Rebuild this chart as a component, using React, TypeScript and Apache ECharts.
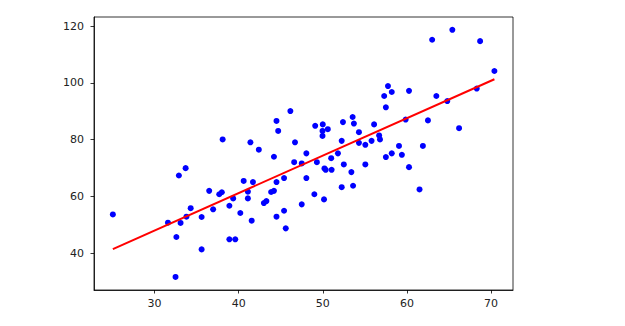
import React, { useEffect, useRef } from "react";
import * as echarts from "echarts";

const xValues = [
  25.05, 32.5, 32.6, 35.6, 31.6, 33.1, 33.8, 34.3, 32.9, 33.7,
  35.6, 36.97, 36.5, 37.7, 38.0, 38.9, 39.35, 38.9, 39.6, 40.2,
  40.6, 41.1, 41.1, 41.55, 41.7, 42.4, 44.2, 43.0, 43.3, 43.86,
  44.2, 44.5, 45.4, 44.5, 45.4, 45.6, 46.6, 47.5, 48.05, 48.05,
  47.5, 46.15, 44.5, 44.7, 38.1, 41.4, 46.7, 65.4, 63.0, 68.7,
  70.4, 68.3, 63.5, 64.8, 57.75, 58.2, 57.3, 60.25, 57.5, 66.2,
  62.5, 59.85, 49.1, 50.0, 49.97, 50.6, 49.97, 52.4, 53.55, 53.7,
  56.1, 54.3, 52.25, 54.3, 55.06, 55.8, 56.7, 56.8, 51.8, 51.0,
  59.06, 61.9, 57.5, 58.2, 59.4, 49.3, 50.2, 50.35, 51.05, 52.5,
  53.4, 55.06, 52.25, 53.6, 49.0, 50.15, 60.25, 61.5,
];
const yValues = [
  53.7, 31.7, 45.75, 41.4, 50.8, 50.7, 52.9, 55.9, 67.4, 70.0,
  52.8, 55.5, 62.0, 60.8, 61.5, 56.75, 59.35, 44.95, 44.95, 54.2,
  65.5, 61.7, 59.35, 51.5, 65.1, 76.5, 74.0, 57.7, 58.4, 61.6,
  62.0, 65.1, 66.5, 52.9, 55.0, 48.8, 72.1, 71.65, 75.2, 66.5,
  57.25, 90.1, 86.6, 83.1, 80.1, 79.1, 79.1, 118.7, 115.2, 114.7,
  104.2, 98.0, 95.4, 93.6, 98.9, 96.8, 95.4, 97.2, 91.4, 84.05,
  86.8, 87.1, 84.9, 85.4, 83.1, 83.7, 81.35, 86.2, 88.0, 85.7,
  85.4, 82.65, 79.6, 78.9, 78.2, 79.6, 81.5, 80.1, 75.2, 73.5,
  77.8, 77.8, 73.9, 75.2, 74.7, 72.1, 69.9, 69.4, 69.4, 71.3,
  68.6, 71.3, 63.3, 63.8, 60.8, 59.0, 70.35, 62.5,
];
const lineX = [25.05, 70.4];
const lineY = [41.5, 101.3];
const xTicks = [30, 40, 50, 60, 70];
const yTicks = [40, 60, 80, 100, 120];

const axisColor = "#000";
const labelColor = "#222";
const font = "DejaVu Sans";

export default function App() {
  const ref = useRef<HTMLDivElement>(null);
  useEffect(() => {
    const chart = echarts.init(ref.current!, null, { renderer: "svg" });
    chart.setOption({
      animation: false,
      backgroundColor: "#fff",
      grid: {
        left: 94,
        right: 112,
        top: 17,
        bottom: 36,
        show: true,
        borderColor: axisColor,
        borderWidth: 0.8,
        backgroundColor: "transparent",
      },
      xAxis: {
        type: "value",
        min: 22.81,
        max: 72.61,
        splitLine: { show: false },
        axisLine: { show: true, lineStyle: { color: axisColor, width: 0.8 } },
        axisTick: {
          show: true,
          customValues: xTicks,
          length: 3.5,
          lineStyle: { color: axisColor, width: 0.8 },
        },
        axisLabel: {
          customValues: xTicks,
          margin: 8,
          fontSize: 11,
          color: labelColor,
          fontFamily: font,
        },
      },
      yAxis: {
        type: "value",
        min: 27.1,
        max: 123.2,
        splitLine: { show: false },
        axisLine: { show: true, lineStyle: { color: axisColor, width: 0.8 } },
        axisTick: {
          show: true,
          customValues: yTicks,
          length: 3.5,
          lineStyle: { color: axisColor, width: 0.8 },
        },
        axisLabel: {
          customValues: yTicks,
          margin: 10,
          fontSize: 11,
          color: labelColor,
          fontFamily: font,
        },
      },
      series: [
        {
          type: "scatter",
          data: xValues.map((x, i) => [x, yValues[i]]),
          symbolSize: 6,
          itemStyle: { color: "#0000ff", opacity: 1 },
        },
        {
          type: "line",
          data: lineX.map((x, i) => [x, lineY[i]]),
          showSymbol: false,
          lineStyle: { color: "#ff0000", width: 2 },
        },
      ],
    });
    return () => chart.dispose();
  }, []);
  return (
    <div
      ref={ref}
      style={{ position: "absolute", left: 0, top: 0, width: 625, height: 326, background: "#fff" }}
    />
  );
}
